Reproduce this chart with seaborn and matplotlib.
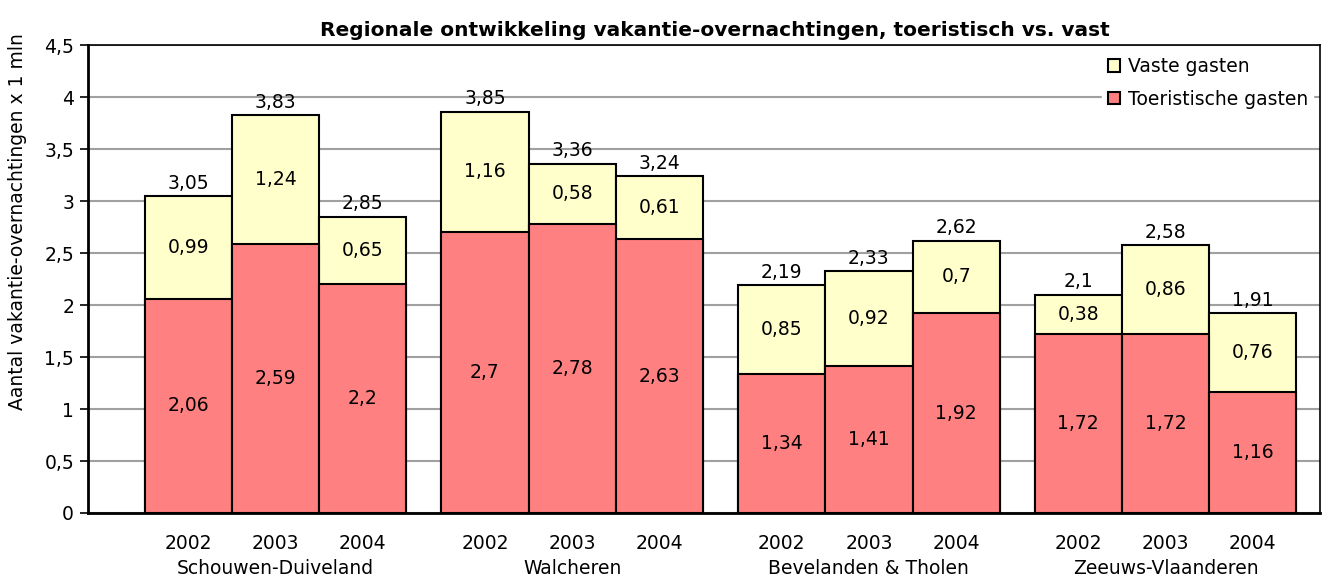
import pandas as pd
import numpy as np
import matplotlib.pyplot as plt
import matplotlib.transforms as mtransforms
import seaborn as sns

regions = ["Schouwen-Duiveland", "Walcheren", "Bevelanden & Tholen", "Zeeuws-Vlaanderen"]
years = ["2002", "2003", "2004"]
toeristisch = [2.06, 2.59, 2.2, 2.7, 2.78, 2.63, 1.34, 1.41, 1.92, 1.72, 1.72, 1.16]
vast = [0.99, 1.24, 0.65, 1.16, 0.58, 0.61, 0.85, 0.92, 0.7, 0.38, 0.86, 0.76]
totaal = [3.05, 3.83, 2.85, 3.85, 3.36, 3.24, 2.19, 2.33, 2.62, 2.1, 2.58, 1.91]


def nl(v):
    # dutch decimal comma
    return f"{v:g}".replace(".", ",")


df = pd.DataFrame({
    "regio": np.repeat(regions, len(years)),
    "jaar": years * len(regions),
    "toeristisch": toeristisch,
    "vast": vast,
    "totaal": totaal,
})
df["stapel"] = df["toeristisch"] + df["vast"]
# bars inside a group touch, small gap between groups
group_step = 3.4
df["pos"] = [g * group_step + i for g in range(len(regions)) for i in range(len(years))]

sns.set_style("white")
plt.rcParams["font.family"] = ["DejaVu Sans"]
plt.rcParams["text.color"] = "black"
plt.rcParams["xtick.color"] = "black"
plt.rcParams["ytick.color"] = "black"

fs = 13.5

fig = plt.figure(figsize=(13.27, 5.8), dpi=100)
ax = fig.add_axes([88 / 1327, 1 - 513 / 580, (1320 - 88) / 1327, (513 - 45) / 580])

sns.barplot(data=df, x="pos", y="stapel", native_scale=True, width=1, color="#FFFFCC",
            saturation=1, edgecolor="black", linewidth=1.5, errorbar=None,
            label="Vaste gasten", ax=ax, zorder=3)
sns.barplot(data=df, x="pos", y="toeristisch", native_scale=True, width=1, color="#FF8080",
            saturation=1, edgecolor="black", linewidth=1.5, errorbar=None,
            label="Toeristische gasten", ax=ax, zorder=3)

# value labels
for _, r in df.iterrows():
    ax.text(r.pos, r.toeristisch / 2, nl(r.toeristisch), ha="center", va="center", fontsize=fs, zorder=5)
    ax.text(r.pos, r.toeristisch + r.vast / 2, nl(r.vast), ha="center", va="center", fontsize=fs, zorder=5)
    ax.text(r.pos, r.stapel + 0.03, nl(r.totaal), ha="center", va="bottom", fontsize=fs, zorder=5)

ax.set_ylim(0, 4.5)
ax.set_xlim(df.pos.min() - 1.15, df.pos.max() + 0.77)
yt = np.arange(0, 4.51, 0.5)
ax.set_yticks(yt, labels=[nl(v) for v in yt])
ax.yaxis.grid(True, color="#A0A0A0", linewidth=1.5)
ax.set_axisbelow(True)

ax.set_xticks(df.pos, labels=df.jaar)
edges = sorted(set(list(df.pos - 0.5) + list(df.pos + 0.5)))
ax.set_xticks(edges, minor=True)
ax.tick_params(axis="x", which="major", length=0, pad=15, labelsize=fs)
ax.tick_params(axis="x", which="minor", length=6, width=1.2, color="black", direction="out")
ax.tick_params(axis="y", length=6, width=1.2, color="black", direction="out", labelsize=fs, pad=4, left=True)
ax.set_xlabel("")
ax.set_ylabel("")

trans = mtransforms.blended_transform_factory(ax.transData, ax.transAxes)
for g, name in enumerate(regions):
    ax.text(g * group_step + 1, -56 / 468, name, transform=trans, ha="center", va="center", fontsize=fs)

for side in ["left", "bottom"]:
    ax.spines[side].set_color("black")
    ax.spines[side].set_linewidth(2)
for side in ["top", "right"]:
    ax.spines[side].set_color("black")
    ax.spines[side].set_linewidth(1.2)

leg = ax.legend(loc="upper right", fontsize=fs, frameon=True, framealpha=1, edgecolor="white",
                fancybox=False, handlelength=0.65, handleheight=0.65, handletextpad=0.4,
                labelspacing=0.72, borderaxespad=0.35, borderpad=0.3)

fig.text(715 / 1327, 1 - 30 / 580, "Regionale ontwikkeling vakantie-overnachtingen, toeristisch vs. vast",
         ha="center", va="center", fontsize=14.5, fontweight="bold")
fig.text(18 / 1327, 1 - 222 / 580, "Aantal vakantie-overnachtingen x 1 mln", rotation=90,
         ha="center", va="center", fontsize=fs)

fig.savefig("out.png", dpi=100)
